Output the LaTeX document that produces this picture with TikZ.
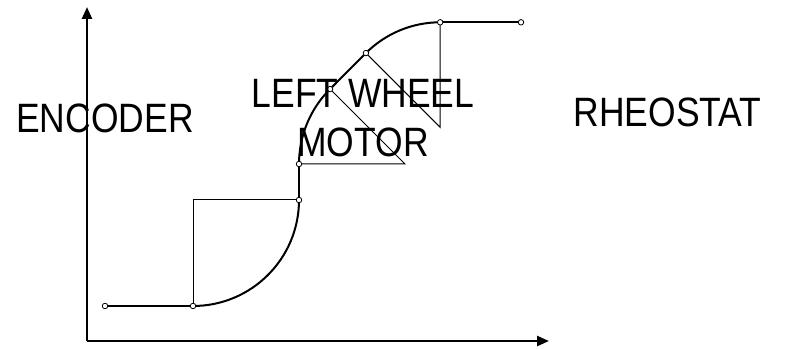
\documentclass[tikz,border=0pt]{standalone}
\usepackage{fontspec}
\setmainfont{Liberation Sans}
\usetikzlibrary{arrows.meta}
\pgfdeclarelayer{bg}
\pgfsetlayers{bg,main}
\begin{document}
\begin{tikzpicture}[x=1pt,y=1pt,
  pin/.style={circle,draw,fill=white,minimum size=5.5pt,inner sep=0pt,line width=0.8pt},
  curve/.style={line width=2pt},
  guide/.style={line width=1pt},
  axis/.style={line width=2.4pt,-{Triangle[length=12pt,width=10pt]}},
  lbl/.style={font=\fontsize{41}{49}\selectfont,inner sep=0pt,anchor=base}]
\useasboundingbox (0,0) rectangle (786,348);
% points
\node[pin] (p0) at (105,42) {};
\node[pin] (p1) at (193,42) {};
\coordinate (c1) at (193,148);
\node[pin] (p2) at (299,148) {};
\node[pin] (p3) at (299,184) {};
\coordinate (c2) at (405,184);
\node[pin] (p4) at (330.05,258.95) {};
\node[pin] (p5) at (365.95,294.95) {};
\coordinate (c3) at (440.2,220.7);
\node[pin] (p6) at (440.2,325.7) {};
\node[pin] (p7) at (521,325.7) {};
\coordinate (o) at (87,7);
\coordinate (ytip) at (87,341);
\coordinate (xtip) at (549,7);
\begin{pgfonlayer}{bg}
\draw[axis] (o) -- (ytip);
\draw[axis] (o) -- (xtip);
\draw[guide] (p1.center) -- (c1) -- (p2.center);
\draw[guide] (p3.center) -- (c2) -- (p4.center);
\draw[guide] (p5.center) -- (c3) -- (p6.center);
\draw[curve] (p0.center) -- (p1.center);
\draw[curve] (p1.center) arc[start angle=270,end angle=360,radius=106];
\draw[curve] (p2.center) -- (p3.center);
\draw[curve] (p3.center) arc[start angle=180,end angle=135,radius=106];
\draw[curve] (p4.center) -- (p5.center);
\draw[curve] (p5.center) arc[start angle=135,end angle=90,radius=105];
\draw[curve] (p6.center) -- (p7.center);
\end{pgfonlayer}
\node[lbl] (enc) at (105,215) {\scalebox{0.865}[1]{ENCODER}};
\node[lbl] (rheo) at (667.5,221) {\scalebox{0.865}[1]{RHEOSTAT}};
\node[lbl,align=center] (motor) at (363,191) {\scalebox{0.865}[1]{LEFT WHEEL}\\\scalebox{0.865}[1]{MOTOR}};
\end{tikzpicture}
\end{document}
